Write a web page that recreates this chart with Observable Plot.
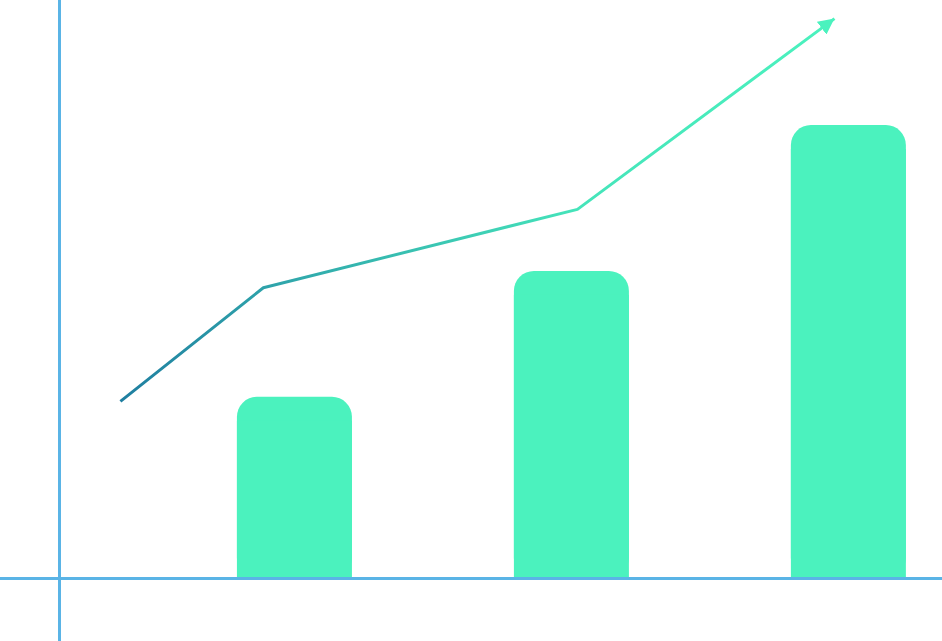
<!DOCTYPE html>
<html>
<head>
<meta charset="utf-8">
<script src="https://cdn.jsdelivr.net/npm/d3@7"></script>
<script src="https://cdn.jsdelivr.net/npm/@observablehq/plot@0.6"></script>
<style>
  html, body { margin: 0; padding: 0; background: #ffffff; }
  #chart svg { display: block; }
</style>
</head>
<body>
<div id="chart"></div>
<script>
// ---- data ----
const barPositions = [0.85, 1.85, 2.85];
const barValues = [40, 67.8, 100];
const trendX = [0.22, 0.736, 1.87, 2.798];
const trendY = [39.1, 64.2, 81.5, 123.6];

// ---- build tables ----
const bars = barPositions.map((p, i) => ({ p, v: barValues[i] }));
const trend = trendX.map((x, i) => ({ x, y: trendY[i] }));

const halfW = 0.2076;
const axisColor = "#5AB4E6";
const barColor = "#4BF2BE";
const pxPerUnit = 4.53;
const radius = 20;

const plot = Plot.plot({
  width: 942,
  height: 641,
  margin: 0,
  style: { background: "#ffffff" },
  x: { domain: [-0.213, 3.188], axis: null },
  y: { domain: [-13.9, 127.6], axis: null },
  marks: [
    Plot.rectY(bars, { x1: d => d.p - halfW, x2: d => d.p + halfW, y1: 0, y2: "v", fill: barColor, rx: radius }),
    Plot.rectY(bars, { x1: d => d.p - halfW, x2: d => d.p + halfW, y1: 0, y2: d => d.v - radius / pxPerUnit * 1.2, fill: barColor }),
    Plot.ruleY([0], { stroke: axisColor, strokeWidth: 3 }),
    Plot.ruleX([0], { stroke: axisColor, strokeWidth: 3 }),
    Plot.line(trend, { x: "x", y: "y", stroke: "#2a9aa8", strokeWidth: 3, strokeLinejoin: "miter", strokeLinecap: "butt" })
  ]
});

const svg = d3.select(plot);
const defs = svg.insert("defs", ":first-child");
const grad = defs.append("linearGradient").attr("id", "trendGrad")
  .attr("x1", "0%").attr("y1", "0%").attr("x2", "100%").attr("y2", "0%");
grad.append("stop").attr("offset", "0%").attr("stop-color", "#1F7EA0");
grad.append("stop").attr("offset", "20%").attr("stop-color", "#2EA2AA");
grad.append("stop").attr("offset", "64%").attr("stop-color", "#45E4BA");
grad.append("stop").attr("offset", "100%").attr("stop-color", "#4BF2BE");
const marker = defs.append("marker").attr("id", "trendArrow")
  .attr("viewBox", "0 0 16 16").attr("refX", 16).attr("refY", 8)
  .attr("markerWidth", 16).attr("markerHeight", 16)
  .attr("markerUnits", "userSpaceOnUse").attr("orient", "auto");
marker.append("path").attr("d", "M0,0L16,8L0,16Z").attr("fill", "#4BF2BE");

svg.select('g[aria-label="line"] path')
  .attr("stroke", "url(#trendGrad)")
  .attr("marker-end", "url(#trendArrow)");

document.getElementById("chart").appendChild(plot);
</script>
</body>
</html>
